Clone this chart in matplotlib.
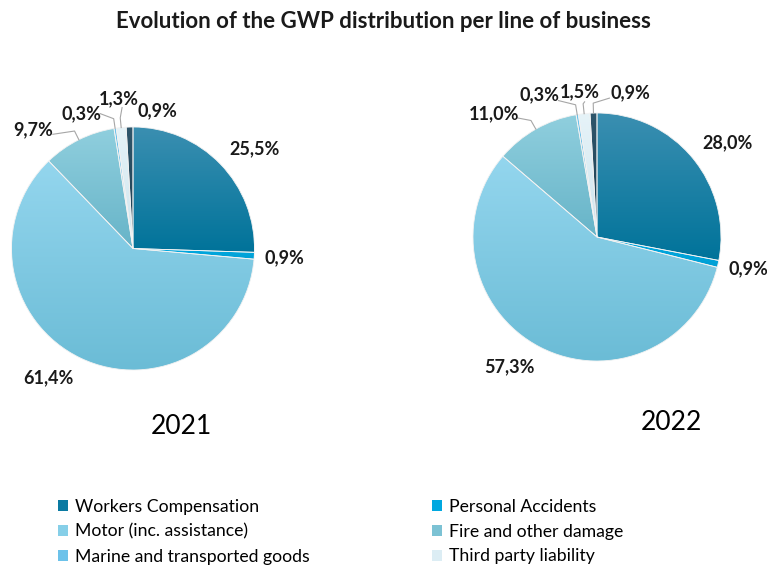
import matplotlib.pyplot as plt
import numpy as np
from matplotlib.colors import LinearSegmentedColormap
from matplotlib.patches import Patch

plt.rcParams['font.family'] = ['Lato', 'DejaVu Sans']

categories = ['Workers Compensation', 'Personal Accidents', 'Motor (inc. assistance)',
              'Fire and other damage', 'Marine and transported goods',
              'Third party liability', 'Other']
gwp_2021 = [25.5, 0.9, 61.4, 9.7, 0.3, 1.3, 0.9]
gwp_2022 = [28.0, 0.9, 57.3, 11.0, 0.3, 1.5, 0.9]

# top / bottom colour of the vertical gradient of each slice
top_colors = ['#3b8fb1', '#00aae2', '#94d6ee', '#90cfde', '#6fc4ec', '#e6f3f8', '#2f566b']
bottom_colors = ['#00739a', '#009fd4', '#6bbcd6', '#67b4c8', '#5ab6e0', '#cfe5ee', '#1c3c4e']
legend_colors = ['#0a7aa2', '#00a8e0', '#86cfe8', '#7cc2d4', '#6cc2ea', '#dcedf4']

# label placement in pie units, and start of the leader line (None = no line)
pos_2021 = [(1.00, 0.82), (1.25, -0.08), (-0.70, -1.06), (-0.82, 0.98),
            (-0.42, 1.11), (-0.12, 1.23), (0.20, 1.13)]
lead_2021 = [None, None, None, (-0.66, 0.94), (-0.27, 1.11), (-0.09, 1.16), None]
pos_2022 = [(1.05, 0.76), (1.22, -0.26), (-0.71, -1.05), (-0.83, 0.99),
            (-0.46, 1.15), (-0.14, 1.17), (0.27, 1.16)]
lead_2022 = [None, None, None, (-0.64, 0.96), (-0.31, 1.10), (-0.10, 1.09), (0.10, 1.12)]


def fmt(v):
    return '{:.1f}%'.format(v).replace('.', ',')


def draw_pie(ax, values, positions, leaders):
    wedges, _ = ax.pie(values, startangle=90, counterclock=False, radius=1,
                       wedgeprops=dict(edgecolor='#f2f2f2', linewidth=0.6))
    grad = np.linspace(0, 1, 256).reshape(-1, 1)
    for i, w in enumerate(wedges):
        w.set_facecolor('none')
        w.set_zorder(3)
        ext = w.get_path().get_extents()
        cmap = LinearSegmentedColormap.from_list('g%d' % i, [top_colors[i], bottom_colors[i]])
        im = ax.imshow(grad, cmap=cmap, aspect='auto', origin='upper',
                       extent=(ext.x0, ext.x1, ext.y0, ext.y1), zorder=2)
        im.set_clip_path(w)

        ang = np.deg2rad((w.theta1 + w.theta2) / 2)
        edge = np.array([np.cos(ang), np.sin(ang)])
        if leaders[i] is not None:
            elbow = edge * 1.08
            xs = [leaders[i][0], elbow[0], edge[0]]
            ys = [leaders[i][1], elbow[1], edge[1]]
            ax.plot(xs, ys, color='#a6a6a6', lw=0.8, clip_on=False, zorder=4)
        ax.text(positions[i][0], positions[i][1], fmt(values[i]), ha='center', va='center',
                fontsize=13, fontweight='bold', color='#1a1a1a', zorder=5)
    ax.set_xlim(-1, 1)
    ax.set_ylim(-1, 1)
    ax.set_aspect('equal')
    ax.axis('off')


fig = plt.figure(figsize=(7.67, 5.67), dpi=100)

ax1 = fig.add_axes([11 / 767, 197 / 567, 244 / 767, 243 / 567])
draw_pie(ax1, gwp_2021, pos_2021, lead_2021)
ax2 = fig.add_axes([473 / 767, 206 / 567, 248 / 767, 248 / 567])
draw_pie(ax2, gwp_2022, pos_2022, lead_2022)

fig.text(383 / 767, 1 - 21 / 567, 'Evolution of the GWP distribution per line of business',
         ha='center', va='center', fontsize=16, fontweight='bold', color='#1a1a1a')
fig.text(181 / 767, 1 - 427 / 567, '2021', ha='center', va='center', fontsize=19)
fig.text(671 / 767, 1 - 422 / 567, '2022', ha='center', va='center', fontsize=19)

handles = [Patch(facecolor=c, edgecolor='none') for c in legend_colors]
order = [0, 2, 4, 1, 3, 5]
fig.legend([handles[i] for i in order], [categories[i] for i in order],
           ncol=2, loc='upper left', bbox_to_anchor=(49 / 767, 1 - 490 / 567),
           frameon=False, fontsize=12.7, handlelength=0.55, handleheight=0.55,
           handletextpad=0.4, columnspacing=6.95, labelspacing=0.5, borderpad=0)

fig.savefig('out.png', dpi=100)
